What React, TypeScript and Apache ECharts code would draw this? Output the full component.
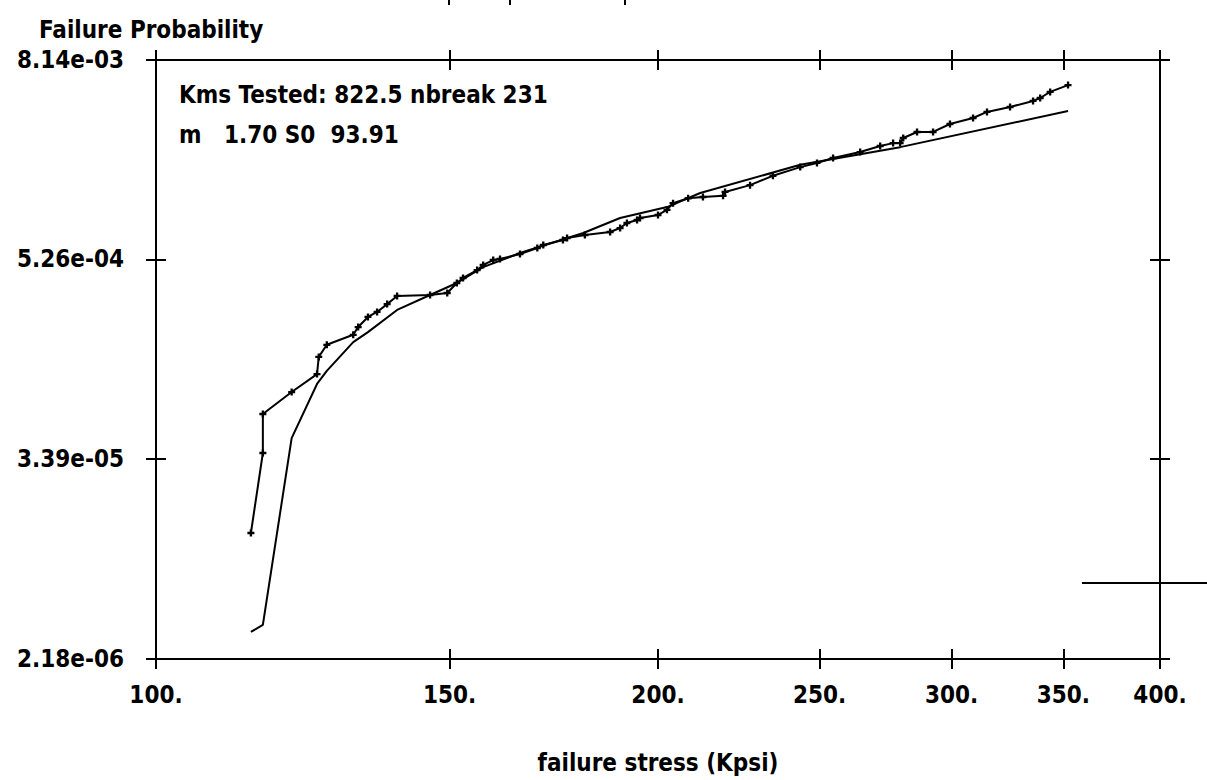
import React, { useEffect, useRef } from 'react';
import * as echarts from 'echarts';

const X_TICKS = [100, 150, 200, 250, 300, 350, 400];
const Y_TICKS = [2.18e-6, 3.39e-5, 5.26e-4, 8.14e-3];

const MEASURED_STRESS = [
  114.0, 115.9, 115.9, 120.6, 124.9, 125.2, 126.6, 131.3, 132.2, 134.0,
  135.7, 137.6, 139.5, 146.0, 149.5, 151.5, 152.8, 155.8, 157.1, 159.3,
  160.8, 165.3, 169.3, 170.7, 175.4, 176.4, 180.8, 187.2, 189.8, 191.6,
  194.3, 195.1, 200.0, 202.5, 204.2, 208.5, 212.8, 218.8, 219.4, 227.1,
  234.4, 243.4, 249.1, 254.7, 264.4, 271.8, 276.7, 279.4, 280.6, 286.0,
  292.4, 299.3, 309.0, 315.0, 325.2, 335.7, 339.0, 343.7, 352.3,
];
const MEASURED_PROB = [
  1.23e-5, 3.69e-5, 6.30e-5, 8.52e-5, 1.09e-4, 1.38e-4, 1.63e-4, 1.87e-4, 2.08e-4, 2.39e-4,
  2.56e-4, 2.85e-4, 3.19e-4, 3.23e-4, 3.32e-4, 3.81e-4, 4.08e-4, 4.55e-4, 4.88e-4, 5.22e-4,
  5.30e-4, 5.67e-4, 6.16e-4, 6.42e-4, 6.87e-4, 7.06e-4, 7.36e-4, 7.67e-4, 8.10e-4, 8.68e-4,
  9.05e-4, 9.30e-4, 9.69e-4, 1.04e-3, 1.14e-3, 1.22e-3, 1.24e-3, 1.26e-3, 1.33e-3, 1.46e-3,
  1.66e-3, 1.87e-3, 1.98e-3, 2.12e-3, 2.30e-3, 2.50e-3, 2.60e-3, 2.60e-3, 2.79e-3, 3.03e-3,
  3.03e-3, 3.38e-3, 3.67e-3, 3.99e-3, 4.27e-3, 4.64e-3, 4.83e-3, 5.25e-3, 5.77e-3,
];

const FIT_STRESS = [
  114.0, 115.9, 120.6, 124.9, 126.6, 131.3, 134.0, 139.5, 146.0, 151.5,
  157.1, 165.3, 180.4, 189.8, 202.5, 212.0, 243.4, 279.4, 352.3,
];
const FIT_PROB = [
  3.16e-6, 3.48e-6, 4.53e-5, 9.52e-5, 1.14e-4, 1.69e-4, 1.94e-4, 2.63e-4, 3.23e-4, 3.81e-4,
  4.74e-4, 5.75e-4, 7.57e-4, 9.30e-4, 1.08e-3, 1.31e-3, 1.93e-3, 2.46e-3, 4.04e-3,
];

const Y_TITLE = 'Failure Probability';
const X_TITLE = 'failure stress (Kpsi)';
const NOTE_1 = 'Kms Tested: 822.5 nbreak 231';
const NOTE_2 = 'm   1.70 S0  93.91';

const FONT = "'DejaVu Sans Condensed', 'DejaVu Sans', sans-serif";
const FS = 24;
const INK = '#000';
const AXIS_LINE = { color: INK, width: 2 };
const PLUS = 'path://M2,0H4V2H6V4H4V6H2V4H0V2H2Z';

const fmtExp = (v: number) => {
  const [m, e] = v.toExponential(2).split('e');
  const n = parseInt(e, 10);
  return `${m}e${n < 0 ? '-' : '+'}${String(Math.abs(n)).padStart(2, '0')}`;
};

function makeX(position: 'top' | 'bottom', inside: boolean, labels: boolean) {
  return {
    type: 'log',
    logBase: 10,
    min: X_TICKS[0],
    max: X_TICKS[X_TICKS.length - 1],
    position,
    axisLine: { show: true, onZero: false, lineStyle: AXIS_LINE },
    axisTick: { show: true, inside, length: 10, customValues: X_TICKS, lineStyle: AXIS_LINE },
    axisLabel: {
      show: labels,
      customValues: X_TICKS,
      margin: 24,
      formatter: (v: number) => `${Math.round(v)}.`,
      fontFamily: FONT,
      fontWeight: 'bold',
      fontSize: FS,
      color: INK,
    },
    minorTick: { show: false },
    splitLine: { show: false },
    minorSplitLine: { show: false },
    name: labels ? X_TITLE : '',
    nameLocation: 'middle',
    nameGap: 92,
    nameTextStyle: { fontFamily: FONT, fontWeight: 'bold', fontSize: FS, color: INK },
  };
}

function makeY(position: 'left' | 'right', inside: boolean, labels: boolean) {
  return {
    type: 'log',
    logBase: 10,
    min: Y_TICKS[0],
    max: Y_TICKS[Y_TICKS.length - 1],
    position,
    axisLine: { show: true, onZero: false, lineStyle: AXIS_LINE },
    axisTick: { show: true, inside, length: 10, customValues: Y_TICKS, lineStyle: AXIS_LINE },
    axisLabel: {
      show: labels,
      customValues: Y_TICKS,
      margin: 32,
      formatter: (v: number) => fmtExp(v),
      fontFamily: FONT,
      fontWeight: 'bold',
      fontSize: FS,
      color: INK,
    },
    minorTick: { show: false },
    splitLine: { show: false },
    minorSplitLine: { show: false },
  };
}

export default function App() {
  const ref = useRef<HTMLDivElement>(null);

  useEffect(() => {
    if (!ref.current) return;
    const chart = echarts.init(ref.current, undefined, { renderer: 'svg' });
    const textStyle = { fontFamily: FONT, fontWeight: 'bold', fontSize: FS, fill: INK, verticalAlign: 'middle', align: 'left' };
    chart.setOption({
      animation: false,
      backgroundColor: '#fff',
      grid: { left: 156, right: 47, top: 60, bottom: 121, containLabel: false },
      xAxis: [
        makeX('bottom', false, true),
        makeX('bottom', true, false),
        makeX('top', false, false),
        makeX('top', true, false),
      ],
      yAxis: [
        makeY('left', false, true),
        makeY('left', true, false),
        makeY('right', false, false),
        makeY('right', true, false),
      ],
      series: [
        {
          name: 'fit',
          type: 'line',
          xAxisIndex: 0,
          yAxisIndex: 0,
          data: FIT_STRESS.map((x, i) => [x, FIT_PROB[i]]),
          showSymbol: false,
          symbol: 'none',
          lineStyle: { color: INK, width: 2 },
          silent: true,
        },
        {
          name: 'measured',
          type: 'line',
          xAxisIndex: 0,
          yAxisIndex: 0,
          data: MEASURED_STRESS.map((x, i) => [x, MEASURED_PROB[i]]),
          symbol: PLUS,
          symbolSize: 7,
          showAllSymbol: true,
          itemStyle: { color: INK },
          lineStyle: { color: INK, width: 2 },
          silent: true,
        },
      ],
      graphic: [
        { type: 'text', x: 39, y: 30, style: { ...textStyle, text: Y_TITLE } },
        { type: 'text', x: 179, y: 95, style: { ...textStyle, text: NOTE_1 } },
        { type: 'text', x: 179, y: 135, style: { ...textStyle, text: NOTE_2 } },
        { type: 'line', shape: { x1: 1082, y1: 583, x2: 1207, y2: 583 }, style: { stroke: INK, lineWidth: 2 } },
        { type: 'rect', shape: { x: 448, y: 0, width: 2, height: 5 }, style: { fill: INK } },
        { type: 'rect', shape: { x: 509, y: 0, width: 2, height: 5 }, style: { fill: INK } },
        { type: 'rect', shape: { x: 624, y: 0, width: 2, height: 5 }, style: { fill: INK } },
      ],
    });
    return () => chart.dispose();
  }, []);

  return (
    <div
      ref={ref}
      style={{ position: 'fixed', left: 0, top: 0, width: 1207, height: 780, background: '#fff' }}
    />
  );
}
